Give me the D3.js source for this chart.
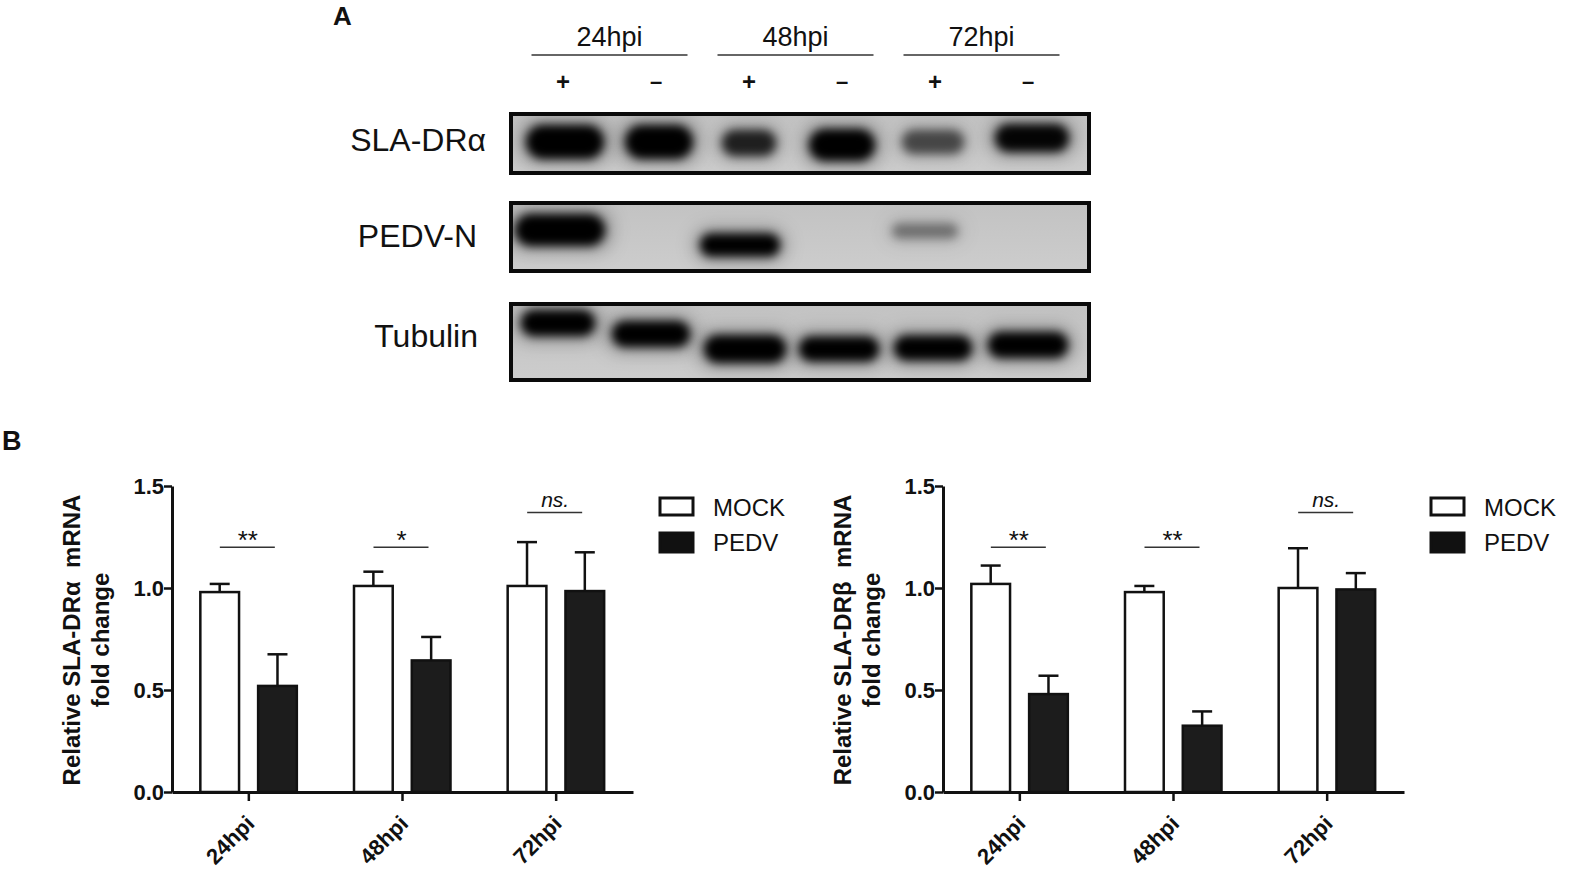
<!DOCTYPE html>
<html>
<head>
<meta charset="utf-8">
<script src="https://cdn.jsdelivr.net/npm/d3@7"></script>
<style>
  html, body { margin: 0; padding: 0; background: #fff; }
  svg { display: block; font-family: "Liberation Sans", Arial, Helvetica, sans-serif; }
  text { fill: #111; }
</style>
</head>
<body>
<svg id="fig" width="1570" height="878"></svg>
<script>
// ---------------- DATA ----------------
const categories = ["24hpi", "48hpi", "72hpi"];
const groups = ["MOCK", "PEDV"];
const yTicks = [0, 0.5, 1.0, 1.5];

const alphaMock    = [0.98, 1.01, 1.01];
const alphaMockErr = [0.04, 0.07, 0.215];
const alphaPedv    = [0.52, 0.645, 0.985];
const alphaPedvErr = [0.155, 0.115, 0.19];
const alphaSig     = ["**", "*", "ns."];

const betaMock    = [1.02, 0.98, 1.0];
const betaMockErr = [0.09, 0.03, 0.195];
const betaPedv    = [0.48, 0.325, 0.993];
const betaPedvErr = [0.09, 0.07, 0.08];
const betaSig     = ["**", "**", "ns."];

const sigLevel = [1.2, 1.2, 1.37];

// Western blot (panel A)
const blotTimes = ["24hpi", "48hpi", "72hpi"];
const blotLanes = ["+", "–", "+", "–", "+", "–"];
const blotRows = ["SLA-DRα", "PEDV-N", "Tubulin"];
const slaIntensity     = [1, 1, 0.8, 1, 0.58, 0.97];
const pedvIntensity    = [1, 0, 1, 0, 0.38, 0];
const tubulinIntensity = [1, 1, 1, 1, 1, 1];

// ---------------- LAYOUT ----------------
const svg = d3.select("#fig");
const FONT = '"Liberation Sans", Arial, Helvetica, sans-serif';

// ---- Panel A ----
svg.append("text").attr("x", 333).attr("y", 25)
  .style("font-size", "26px").style("font-weight", "bold").text("A");

const laneX = d3.scalePoint().domain(d3.range(blotLanes.length)).range([563, 1028]);

blotTimes.forEach((t, i) => {
  const cx = (laneX(2 * i) + laneX(2 * i + 1)) / 2;
  svg.append("text").attr("x", cx).attr("y", 46).attr("text-anchor", "middle")
    .style("font-size", "27px").text(t);
  svg.append("line").attr("x1", cx - 78).attr("x2", cx + 78).attr("y1", 55).attr("y2", 55)
    .attr("stroke", "#333").attr("stroke-width", 1.6);
});
svg.selectAll("text.sign").data(blotLanes).enter().append("text")
  .attr("class", "sign")
  .attr("x", (d, i) => laneX(i)).attr("y", (d) => d === "+" ? 90 : 89)
  .attr("text-anchor", "middle")
  .style("font-size", (d) => d === "+" ? "24px" : "22px").style("font-weight", "bold")
  .text(d => d);

const defs = svg.append("defs");
const f = defs.append("filter").attr("id", "blur").attr("x", "-50%").attr("y", "-80%")
  .attr("width", "200%").attr("height", "260%");
f.append("feGaussianBlur").attr("stdDeviation", 5);
const f2 = defs.append("filter").attr("id", "blur2").attr("x", "-50%").attr("y", "-80%")
  .attr("width", "200%").attr("height", "260%");
f2.append("feGaussianBlur").attr("stdDeviation", 9);
const bg = defs.append("linearGradient").attr("id", "blotbg").attr("x1", 0).attr("x2", 0).attr("y1", 0).attr("y2", 1);
bg.append("stop").attr("offset", "0%").attr("stop-color", "#c2c2c2");
bg.append("stop").attr("offset", "100%").attr("stop-color", "#cdcdcd");

const rowLayout = [
  { y0: 112, y1: 175, labelEnd: 486, baseline: 151,
    cy: [142, 142, 143, 145, 142, 138], w: [78, 68, 54, 66, 62, 74], h: [34, 34, 26, 32, 24, 28],
    dx: [2, 3, 0, 0, -2, 4] },
  { y0: 201, y1: 273, labelEnd: 477, baseline: 247,
    cy: [230, 232, 245, 240, 231, 240], w: [90, 60, 80, 60, 66, 60], h: [32, 20, 23, 20, 15, 20],
    dx: [-3, 0, -9, 0, -10, 0] },
  { y0: 302, y1: 382, labelEnd: 478, baseline: 347,
    cy: [323, 334, 349, 349, 348, 345], w: [74, 78, 82, 80, 78, 80], h: [26, 26, 28, 25, 25, 26],
    dx: [-5, -5, -4, -3, -2, 0] }
];
const rowIntensity = [slaIntensity, pedvIntensity, tubulinIntensity];

blotRows.forEach((name, r) => {
  const L = rowLayout[r];
  svg.append("text").attr("x", L.labelEnd).attr("y", L.baseline).attr("text-anchor", "end")
    .style("font-size", "32px").text(name);
  const g = svg.append("g");
  const cid = "clip" + r;
  defs.append("clipPath").attr("id", cid).append("rect")
    .attr("x", 511).attr("y", L.y0 + 2).attr("width", 578).attr("height", L.y1 - L.y0 - 4);
  g.append("rect").attr("x", 509).attr("y", L.y0).attr("width", 582).attr("height", L.y1 - L.y0)
    .attr("fill", "url(#blotbg)");
  const inner = g.append("g").attr("clip-path", `url(#${cid})`);
  inner.selectAll("rect.halo").data(rowIntensity[r]).enter().append("rect")
    .attr("class", "halo")
    .attr("x", (d, i) => laneX(i) + L.dx[i] - L.w[i] / 2 - 6)
    .attr("y", (d, i) => L.cy[i] - L.h[i] / 2 - 5)
    .attr("width", (d, i) => L.w[i] + 12)
    .attr("height", (d, i) => L.h[i] + 10)
    .attr("rx", 16)
    .attr("fill", "#000").attr("fill-opacity", d => d * 0.3)
    .attr("filter", "url(#blur2)");
  inner.selectAll("rect.band").data(rowIntensity[r]).enter().append("rect")
    .attr("class", "band")
    .attr("x", (d, i) => laneX(i) + L.dx[i] - L.w[i] / 2)
    .attr("y", (d, i) => L.cy[i] - L.h[i] / 2)
    .attr("width", (d, i) => L.w[i])
    .attr("height", (d, i) => L.h[i])
    .attr("rx", (d, i) => L.h[i] / 2)
    .attr("fill", "#000").attr("fill-opacity", d => d)
    .attr("filter", "url(#blur)");
  g.append("rect").attr("x", 511).attr("y", L.y0 + 2).attr("width", 578).attr("height", L.y1 - L.y0 - 4)
    .attr("fill", "none").attr("stroke", "#0a0a0a").attr("stroke-width", 4);
});

// ---- Panel B ----
svg.append("text").attr("x", 2).attr("y", 450)
  .style("font-size", "27px").style("font-weight", "bold").text("B");

function drawChart(opts) {
  const x0 = opts.x0;
  const g = svg.append("g");
  const x = d3.scaleBand().domain(categories).range([x0, x0 + 461]);
  const xs = d3.scaleBand().domain(groups).range([-48.5, 48]).paddingInner(0.33);
  const y = d3.scaleLinear().domain([0, 1.5]).range([792, 486]);

  const rows = [];
  categories.forEach((c, i) => {
    rows.push({ c, grp: "MOCK", v: opts.mock[i], e: opts.mockErr[i] });
    rows.push({ c, grp: "PEDV", v: opts.pedv[i], e: opts.pedvErr[i] });
  });
  const bx = d => x(d.c) + x.bandwidth() / 2 + xs(d.grp);
  const bcx = d => bx(d) + xs.bandwidth() / 2;

  const eb = g.selectAll("g.err").data(rows).enter().append("g").attr("class", "err");
  eb.append("line").attr("x1", bcx).attr("x2", bcx)
    .attr("y1", d => y(d.v)).attr("y2", d => y(d.v + d.e))
    .attr("stroke", "#111").attr("stroke-width", 2.5);
  eb.append("line").attr("x1", d => bcx(d) - 10).attr("x2", d => bcx(d) + 10)
    .attr("y1", d => y(d.v + d.e)).attr("y2", d => y(d.v + d.e))
    .attr("stroke", "#111").attr("stroke-width", 2.5);

  g.selectAll("rect.bar").data(rows).enter().append("rect")
    .attr("class", "bar")
    .attr("x", bx).attr("width", xs.bandwidth())
    .attr("y", d => y(d.v)).attr("height", d => y(0) - y(d.v))
    .attr("fill", d => d.grp === "MOCK" ? "#fff" : "#1c1c1c")
    .attr("stroke", "#111").attr("stroke-width", 2.5);

  categories.forEach((c, i) => {
    const cx = x(c) + x.bandwidth() / 2;
    const ly = y(sigLevel[i]);
    g.append("line").attr("x1", cx - 29).attr("x2", cx + 26).attr("y1", ly).attr("y2", ly)
      .attr("stroke", "#333").attr("stroke-width", 1.6);
    const s = opts.sig[i];
    if (s === "ns.") {
      g.append("text").attr("x", cx - 1).attr("y", ly - 6).attr("text-anchor", "middle")
        .style("font-size", "21px").style("font-style", "italic").text(s);
    } else {
      g.append("text").attr("x", cx - 1).attr("y", ly + 2).attr("text-anchor", "middle")
        .style("font-size", "26px").text(s);
    }
  });

  const ya = g.append("g").attr("transform", `translate(${x0},0)`)
    .call(d3.axisLeft(y).tickValues(yTicks).tickFormat(d3.format(".1f"))
      .tickSize(8).tickSizeOuter(0).tickPadding(0));
  ya.select(".domain").attr("stroke", "#111").attr("stroke-width", 3);
  ya.selectAll(".tick line").attr("stroke", "#111").attr("stroke-width", 2.5);
  ya.selectAll(".tick text").style("font-size", "22px").style("font-weight", "bold")
    .style("font-family", FONT).attr("fill", "#111");

  const xa = g.append("g").attr("transform", `translate(0,${y(0)})`)
    .call(d3.axisBottom(x).tickSize(9).tickSizeOuter(0));
  xa.select(".domain").attr("stroke", "#111").attr("stroke-width", 3);
  xa.selectAll(".tick line").attr("stroke", "#111").attr("stroke-width", 2.5);
  xa.selectAll(".tick text")
    .attr("x", 0).attr("y", 0).attr("dy", 0)
    .attr("transform", "translate(7,33) rotate(-45)")
    .attr("text-anchor", "end")
    .style("font-size", "22px").style("font-weight", "bold")
    .style("font-family", FONT).attr("fill", "#111");

  const yl = g.append("g").attr("transform", `translate(${x0 - 92},640) rotate(-90)`);
  yl.append("text").attr("text-anchor", "middle").attr("y", 0)
    .style("font-size", "24px").style("font-weight", "bold").style("white-space", "pre")
    .text(opts.label);
  yl.append("text").attr("text-anchor", "middle").attr("y", 29)
    .style("font-size", "24px").style("font-weight", "bold")
    .text("fold change");

  const lg = g.append("g").attr("transform", `translate(${x0 + 488},0)`);
  groups.forEach((grp, i) => {
    lg.append("rect").attr("x", 0).attr("y", 498 + i * 35).attr("width", 33).attr("height", i ? 19 : 17)
      .attr("fill", grp === "MOCK" ? "#fff" : "#111").attr("stroke", "#111").attr("stroke-width", 3);
    lg.append("text").attr("x", 53).attr("y", 516 + i * 35)
      .style("font-size", "24px").text(grp);
  });
}

drawChart({ x0: 172, mock: alphaMock, mockErr: alphaMockErr, pedv: alphaPedv, pedvErr: alphaPedvErr,
  sig: alphaSig, label: "Relative SLA-DRα  mRNA" });
drawChart({ x0: 943, mock: betaMock, mockErr: betaMockErr, pedv: betaPedv, pedvErr: betaPedvErr,
  sig: betaSig, label: "Relative SLA-DRβ  mRNA" });
</script>
</body>
</html>
